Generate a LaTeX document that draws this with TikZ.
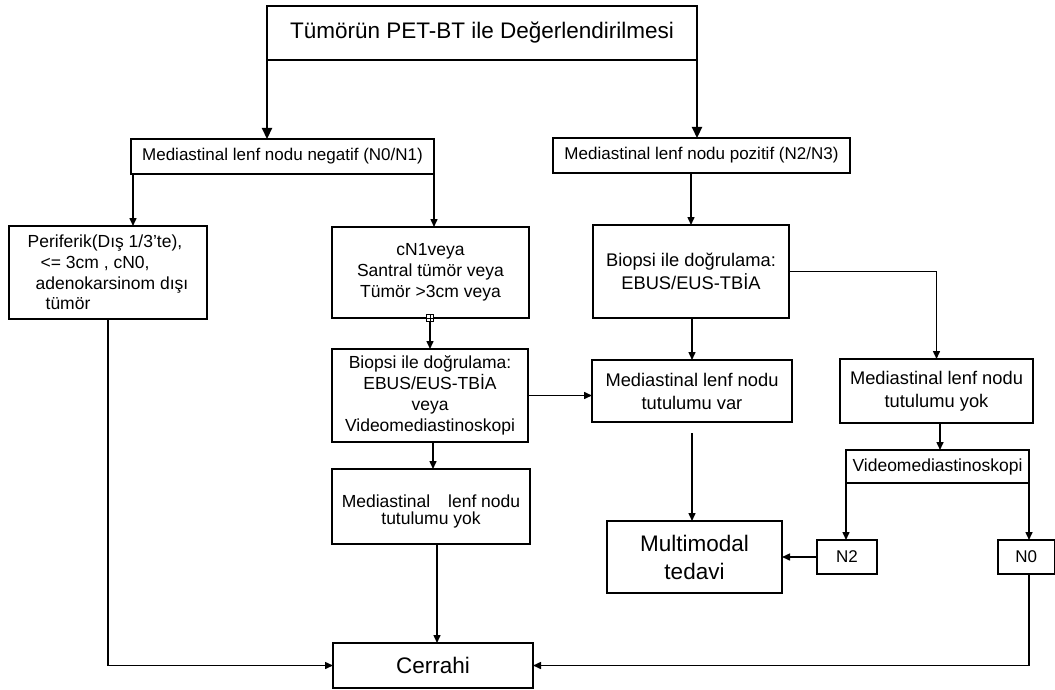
\documentclass[tikz,border=0pt]{standalone}
\usepackage{fontspec}
\setmainfont{Liberation Sans}
\usetikzlibrary{arrows.meta}
\begin{document}
\begin{tikzpicture}[x=1pt,y=-1pt,
  box/.style={draw, line width=1.8pt, inner sep=0pt, outer sep=0pt, align=center,
              font=\fontsize{17.5}{20.8}\selectfont},
  bigfont/.style={font=\fontsize{22.5}{28}\selectfont},
  medfont/.style={font=\fontsize{18.3}{23}\selectfont},
  smallfont/.style={font=\fontsize{17}{20}\selectfont},
  conn/.style={line width=1.5pt, -{Triangle[length=8pt,width=7pt]}},
  thickconn/.style={line width=2.2pt, -{Triangle[length=11pt,width=10pt]}},
  plainline/.style={line width=1.5pt}
]
\useasboundingbox (0,0) rectangle (1055,690);

% nodes
\node[box, bigfont, minimum width=430pt, minimum height=54pt] (top) at (482,33) {Tümörün PET-BT ile Değerlendirilmesi};
\node[box, smallfont, minimum width=303pt, minimum height=35pt] (neg) at (282.5,156.5) {Mediastinal lenf nodu negatif (N0/N1)};
\node[box, smallfont, minimum width=297pt, minimum height=35pt] (pos) at (701.5,155.5) {Mediastinal lenf nodu pozitif (N2/N3)};
\node[box, align=left, minimum width=198pt, minimum height=93pt] (peri) at (108,272.5)
  {Periferik(Dış 1/3’te),\\\hspace*{13pt}<= 3cm , cN0,\\\hspace*{8pt}adenokarsinom dışı\\\hspace*{18pt}tümör};
\node[box, minimum width=197pt, minimum height=91pt] (cn1) at (430.5,272.5) {cN1veya\\Santral tümör veya\\Tümör >3cm veya};
\node[draw, line width=0.8pt, fill=white, minimum size=7pt, inner sep=0pt, outer sep=0pt] (sq) at (430,318) {};
\draw[line width=0.6pt] (sq.north) -- (sq.south) (sq.west) -- (sq.east);
\node[box, minimum width=196pt, minimum height=93pt] (bmid) at (430,395.5) {Biopsi ile doğrulama:\\EBUS/EUS-TBİA\\veya\\Videomediastinoskopi};
\node[box, minimum width=198pt, minimum height=75pt] (myokL) at (431,506.5) {\raisebox{-5pt}[\height][\depth]{\shortstack{Mediastinal\hspace{13pt} lenf nodu\\[2pt]tutulumu yok}}};
\node[box, bigfont, minimum width=200pt, minimum height=45pt] (cer) at (433,665.5) {Cerrahi};
\node[box, medfont, minimum width=196pt, minimum height=93pt] (bright) at (691,271.5) {Biopsi ile doğrulama:\\EBUS/EUS-TBİA};
\node[box, medfont, minimum width=200pt, minimum height=62pt] (mvar) at (692,391) {Mediastinal lenf nodu\\tutulumu var};
\node[box, medfont, minimum width=193pt, minimum height=64pt] (myokR) at (936.5,391) {Mediastinal lenf nodu\\tutulumu yok};
\node[box, minimum width=183pt, minimum height=33pt] (video) at (937.5,466.5) {Videomediastinoskopi};
\node[box, smallfont, minimum width=60pt, minimum height=34pt] (n2) at (847,557) {N2};
\node[box, smallfont, minimum width=56.5pt, minimum height=34pt] (n0) at (1026.25,557) {N0};
\node[box, bigfont, minimum width=175pt, minimum height=72pt] (mm) at (694.5,557) {Multimodal\\tedavi};

% connectors
\draw[thickconn] (top.south west) -- (top.south west |- neg.north);
\draw[thickconn] (top.south east) -- (top.south east |- pos.north);
\draw[conn] ([xshift=2pt]neg.south west) -- ([xshift=2pt]neg.south west |- peri.north);
\draw[conn] (neg.south east) -- (neg.south east |- cn1.north);
\draw[conn] (sq.south) -- (bmid.north);
\draw[conn] ([xshift=3pt]bmid.south) -- ([xshift=3pt]bmid.south |- myokL.north);
\draw[conn] ([xshift=6pt]myokL.south) -- ([xshift=6pt]myokL.south |- cer.north);
\draw[conn] (peri.south) |- (cer.west);
\draw[conn] (bmid.east) -- (bmid.east -| mvar.west);
\draw[conn] (bright.north |- pos.south) -- (bright.north);
\draw[conn] ([xshift=1pt]bright.south) -- ([xshift=1pt]bright.south |- mvar.north);
\draw[conn] (bright.east) -| (myokR.north);
\draw[conn] ([xshift=3.5pt]myokR.south) -- ([xshift=3.5pt]myokR.south |- video.north);
\draw[conn] (video.south west) -- (video.south west |- n2.north);
\draw[conn] (video.south east) -- (video.south east |- n0.north);
\draw[conn] (n2.west) -- (mm.east);
\draw[conn] ([yshift=-11pt]mvar.south) -- (mvar.south |- mm.north);
\draw[conn] (video.south east |- n0.south) |- (cer.east);
\end{tikzpicture}
\end{document}
